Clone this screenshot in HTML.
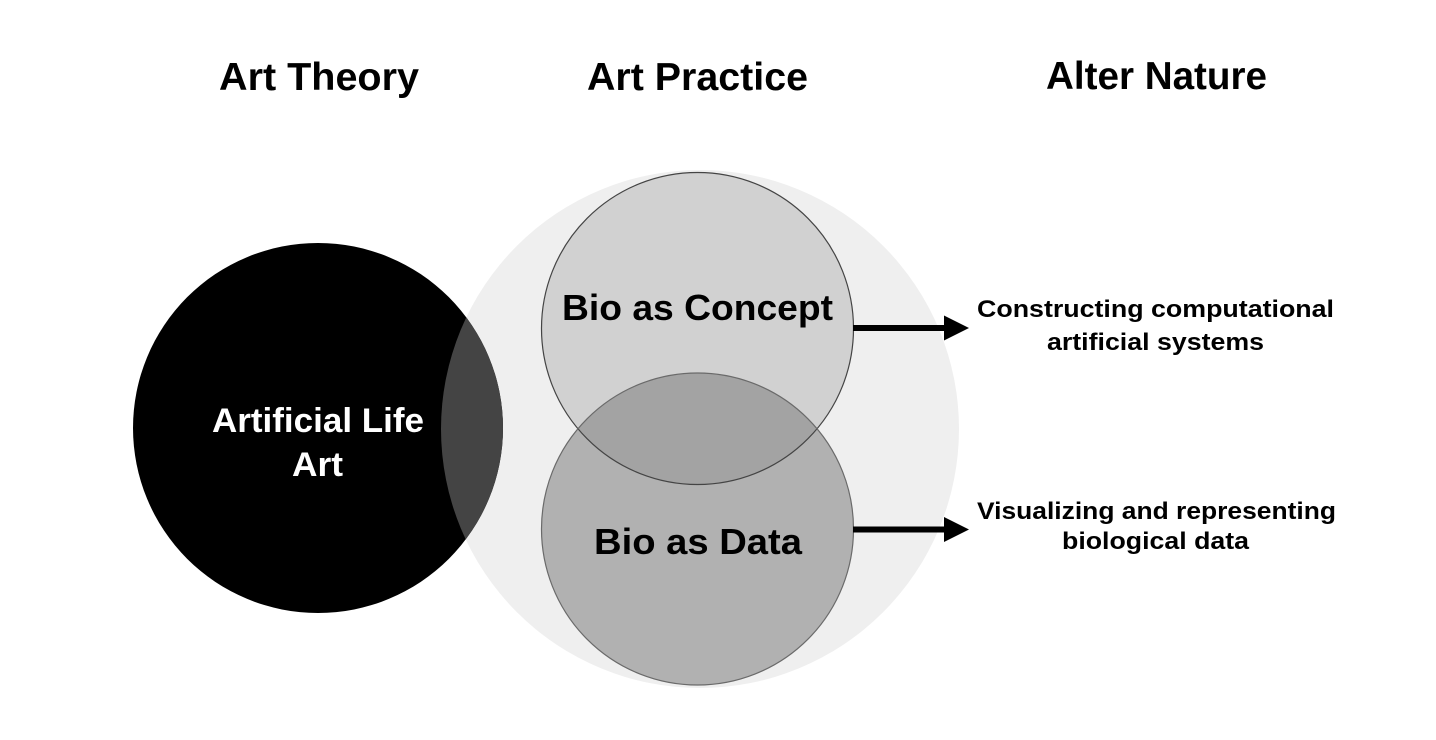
<!DOCTYPE html>
<html>
<head>
<meta charset="utf-8">
<style>
  html,body{margin:0;padding:0;background:#fff;}
  svg{display:block;}
  text{font-family:"Liberation Sans", Arial, sans-serif;font-weight:bold;}
</style>
</head>
<body>
<svg width="1436" height="740" viewBox="0 0 1436 740" xmlns="http://www.w3.org/2000/svg">
  <defs>
    <clipPath id="clipBig"><circle cx="700" cy="429" r="259"/></clipPath>
    <clipPath id="clipConcept"><circle cx="697.5" cy="328.5" r="156"/></clipPath>
  </defs>
  <rect width="1436" height="740" fill="#fff"/>

  <!-- Titles -->
  <text x="319" y="90" font-size="39" text-anchor="middle" textLength="200" lengthAdjust="spacingAndGlyphs" fill="#000">Art Theory</text>
  <text x="697.5" y="90" font-size="39" text-anchor="middle" textLength="221" lengthAdjust="spacingAndGlyphs" fill="#000">Art Practice</text>
  <text x="1156.5" y="89" font-size="39" text-anchor="middle" textLength="221" lengthAdjust="spacingAndGlyphs" fill="#000">Alter Nature</text>

  <!-- Big light circle -->
  <circle cx="700" cy="429" r="259" fill="#efefef"/>

  <!-- Black circle -->
  <circle cx="318" cy="428" r="185" fill="#000"/>
  <circle cx="318" cy="428" r="185" fill="#444" clip-path="url(#clipBig)"/>

  <!-- Concept & Data circles -->
  <circle cx="697.5" cy="328.5" r="156" fill="#d1d1d1"/>
  <circle cx="697.5" cy="529" r="156" fill="#b1b1b1"/>
  <circle cx="697.5" cy="529" r="156" fill="#a3a3a3" clip-path="url(#clipConcept)"/>
  <circle cx="697.5" cy="328.5" r="156" fill="none" stroke="#444" stroke-width="1.2"/>
  <circle cx="697.5" cy="529" r="156" fill="none" stroke="#6a6a6a" stroke-width="1.2"/>

  <!-- Circle labels -->
  <text x="318" y="432" font-size="34" text-anchor="middle" textLength="212" lengthAdjust="spacingAndGlyphs" fill="#fff">Artificial Life</text>
  <text x="317.5" y="476" font-size="34" text-anchor="middle" textLength="51" lengthAdjust="spacingAndGlyphs" fill="#fff">Art</text>
  <text x="697.5" y="320" font-size="36" text-anchor="middle" textLength="271" lengthAdjust="spacingAndGlyphs" fill="#000">Bio as Concept</text>
  <text x="698" y="554" font-size="36" text-anchor="middle" textLength="208" lengthAdjust="spacingAndGlyphs" fill="#000">Bio as Data</text>

  <!-- Arrows -->
  <line x1="853" y1="328" x2="946" y2="328" stroke="#000" stroke-width="6"/>
  <polygon points="944,315.5 969,328 944,340.5" fill="#000"/>
  <line x1="853" y1="529.5" x2="946" y2="529.5" stroke="#000" stroke-width="6"/>
  <polygon points="944,517 969,529.5 944,542" fill="#000"/>

  <!-- Right labels -->
  <text x="1155.5" y="317" font-size="24" text-anchor="middle" textLength="357" lengthAdjust="spacingAndGlyphs" fill="#000">Constructing computational</text>
  <text x="1155.5" y="350" font-size="24" text-anchor="middle" textLength="217" lengthAdjust="spacingAndGlyphs" fill="#000">artificial systems</text>
  <text x="1156.5" y="519" font-size="24" text-anchor="middle" textLength="359" lengthAdjust="spacingAndGlyphs" fill="#000">Visualizing and representing</text>
  <text x="1155.5" y="549" font-size="24" text-anchor="middle" textLength="187" lengthAdjust="spacingAndGlyphs" fill="#000">biological data</text>
</svg>
</body>
</html>
